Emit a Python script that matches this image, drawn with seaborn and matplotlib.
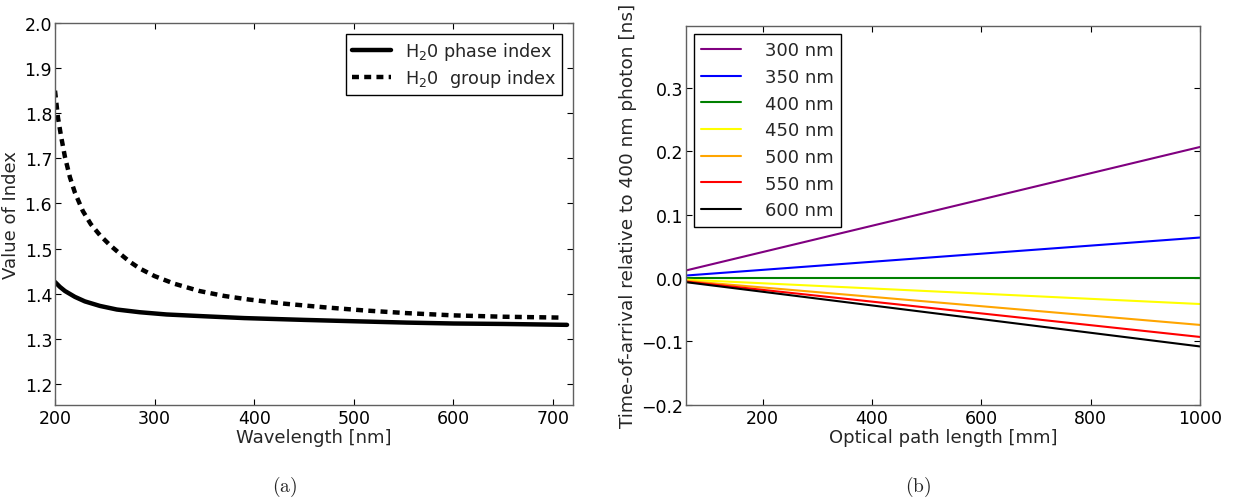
import numpy as np
import pandas as pd
import matplotlib
matplotlib.use("Agg")
import matplotlib.pyplot as plt
import seaborn as sns

# ---------------- data ----------------
phase_wavelength_nm = [200, 205, 210, 220, 230, 245, 262, 285, 312, 350, 390, 450, 500, 553, 600, 650, 714]
phase_index = [1.426, 1.415, 1.406, 1.393, 1.383, 1.373, 1.365, 1.359, 1.354, 1.350, 1.346, 1.342, 1.339, 1.336, 1.334, 1.333, 1.331]

group_wavelength_nm = [200, 203, 206, 210, 215, 220, 228, 236, 245, 255, 265, 275, 285, 300, 320, 345, 370,
                       395, 430, 470, 510, 553, 600, 650, 710]
group_index = [1.850, 1.790, 1.750, 1.703, 1.658, 1.624, 1.583, 1.554, 1.530, 1.508, 1.489, 1.471, 1.456, 1.439,
               1.422, 1.406, 1.395, 1.387, 1.378, 1.370, 1.363, 1.357, 1.352, 1.349, 1.347]

path_length_mm = [60, 1000]
photon_wavelengths = ["300 nm", "350 nm", "400 nm", "450 nm", "500 nm", "550 nm", "600 nm"]
delay_start_ns = [0.012, 0.004, 0.0, -0.0025, -0.0045, -0.0056, -0.0065]
delay_end_ns = [0.207, 0.064, 0.0, -0.041, -0.074, -0.093, -0.108]
line_colors = ["#800080", "#0000ff", "#008000", "#ffff00", "#ffa500", "#ff0000", "#000000"]

# ---------------- style ----------------
sns.set_style("ticks", {"xtick.direction": "in", "ytick.direction": "in"})
plt.rcParams["font.family"] = ["DejaVu Sans"]
plt.rcParams.update({
    "axes.edgecolor": "#606060",
    "axes.linewidth": 1.0,
    "xtick.top": True, "ytick.right": True,
    "xtick.major.size": 4, "ytick.major.size": 4,
    "xtick.major.pad": 3, "ytick.major.pad": 2,
    "xtick.color": "black", "ytick.color": "black",
    "xtick.labelsize": 12.5, "ytick.labelsize": 12.5,
    "axes.labelsize": 13,
    "lines.scale_dashes": False,
})

fig = plt.figure(figsize=(12.36, 5.02), dpi=100)
ax1 = fig.add_axes([0.0445, 0.1918, 0.4191, 0.7604])
ax2 = fig.add_axes([0.555, 0.1918, 0.4159, 0.7544])

# ---------------- left panel ----------------
df_phase = pd.DataFrame({"wl": phase_wavelength_nm, "n": phase_index})
df_group = pd.DataFrame({"wl": group_wavelength_nm, "n": group_index})
sns.lineplot(data=df_phase, x="wl", y="n", ax=ax1, color="black", lw=3.2,
             label="H$_2$0 phase index")
sns.lineplot(data=df_group, x="wl", y="n", ax=ax1, color="black", lw=3.2,
             label="H$_2$0  group index")
ax1.lines[1].set_dashes([5, 3.8])
ax1.set_xlim(200, 720)
ax1.set_ylim(1.154, 2.0)
ax1.set_xticks([200, 300, 400, 500, 600, 700])
ax1.set_yticks([1.2, 1.3, 1.4, 1.5, 1.6, 1.7, 1.8, 1.9, 2.0])
ax1.set_xlabel("Wavelength [nm]", labelpad=1)
ax1.set_ylabel("Value of Index", labelpad=3)
leg1 = ax1.legend(loc="upper right", fontsize=12.7, fancybox=False, frameon=True,
                  edgecolor="black", framealpha=1, handlelength=2.2,
                  borderaxespad=0.6, labelspacing=0.3, borderpad=0.35)
leg1.get_frame().set_linewidth(1.0)

# ---------------- right panel ----------------
rows = []
for name, s, e in zip(photon_wavelengths, delay_start_ns, delay_end_ns):
    rows.append({"L": path_length_mm[0], "dt": s, "wl": name})
    rows.append({"L": path_length_mm[1], "dt": e, "wl": name})
df_dt = pd.DataFrame(rows)
sns.lineplot(data=df_dt, x="L", y="dt", hue="wl", palette=line_colors,
             hue_order=photon_wavelengths, ax=ax2, lw=1.5)
ax2.set_xlim(60, 1000)
ax2.set_ylim(-0.2, 0.398)
ax2.set_xticks([200, 400, 600, 800, 1000])
ax2.set_yticks([-0.2, -0.1, 0.0, 0.1, 0.2, 0.3])
ax2.set_xlabel("Optical path length [mm]", labelpad=1)
ax2.set_ylabel("Time-of-arrival relative to 400 nm photon [ns]", labelpad=3, fontsize=13.3)
leg2 = ax2.legend(loc="upper left", fontsize=13, fancybox=False, frameon=True,
                  edgecolor="black", framealpha=1, handlelength=2.2,
                  handletextpad=1.3, borderaxespad=0.45, labelspacing=0.48, borderpad=0.4)
leg2.get_frame().set_linewidth(1.0)

# ---------------- captions ----------------
fig.text(0.2305, 0.03, r"$\mathrm{(a)}$", ha="center", va="center", fontsize=14, math_fontfamily="cm")
fig.text(0.7427, 0.03, r"$\mathrm{(b)}$", ha="center", va="center", fontsize=14, math_fontfamily="cm")

fig.savefig("out.png", dpi=100)
